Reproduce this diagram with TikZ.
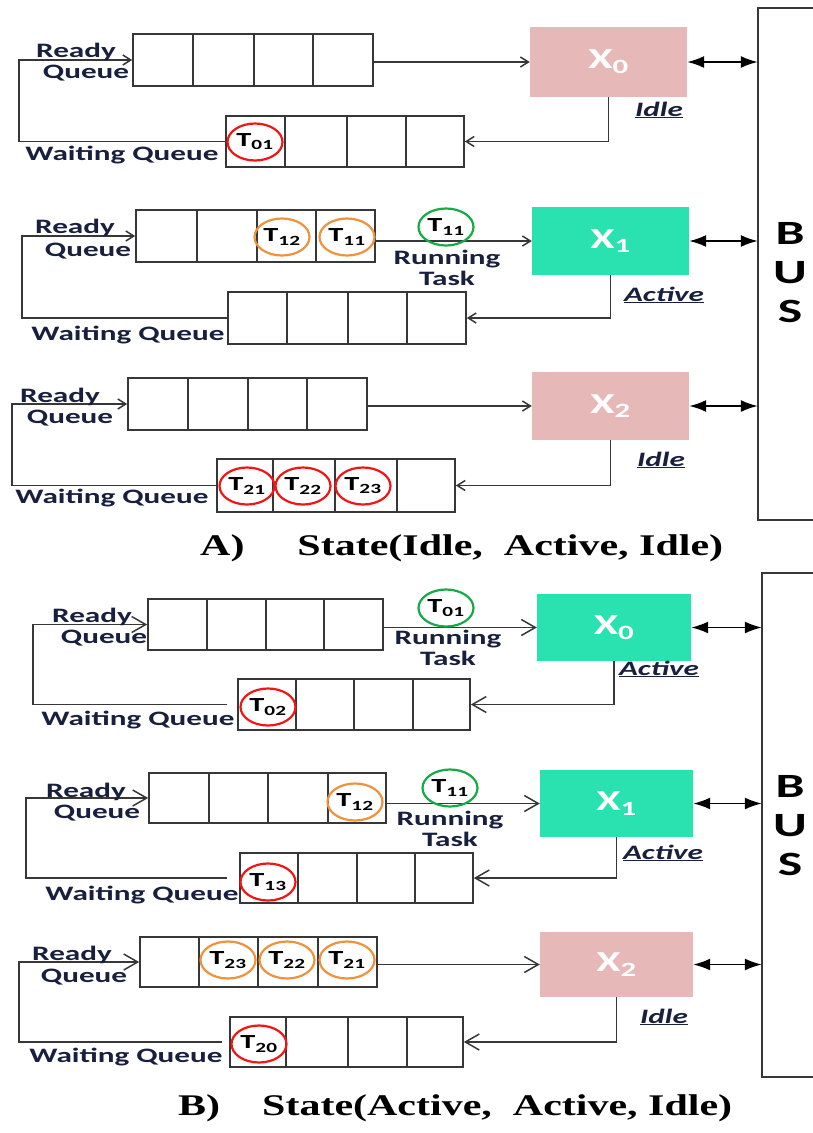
\documentclass[tikz,border=0pt]{standalone}
\usepackage{fontspec}
\usepackage{graphicx}
\setmainfont{Carlito}[FakeStretch=1.52]
\newfontfamily\capfont{Liberation Serif}[FakeStretch=1.4]
\usetikzlibrary{shapes.geometric,arrows.meta}
\definecolor{navy}{RGB}{24,32,62}
\definecolor{pinkbox}{RGB}{230,184,183}
\definecolor{greenbox}{RGB}{42,226,176}
\definecolor{orangec}{RGB}{240,145,60}
\definecolor{greenc}{RGB}{20,170,70}
\definecolor{redc}{RGB}{245,20,20}
\definecolor{linec}{RGB}{55,55,55}
\tikzset{
 qbox/.style={draw=linec, line width=1.6pt, inner sep=0, rectangle},
 qdiv/.style={draw=linec, line width=2.2pt},
 proc/.style={rectangle, inner sep=0, draw=none, text=white, font=\bfseries\fontsize{29}{30}\selectfont},
 lbl/.style={text=navy, font=\bfseries\fontsize{20.5}{20.5}\selectfont, inner sep=0},
 statelbl/.style={text=navy, font=\bfseries\itshape\fontsize{20.5}{20.5}\selectfont, inner sep=0},
 task/.style={ellipse, draw=#1, line width=2.2pt, minimum width=55pt, minimum height=37pt, inner sep=0, font=\bfseries\fontsize{20}{20}\selectfont, text=black},
 conn/.style={draw=linec, line width=1.5pt},
 arrA/.style={conn, -{Straight Barb[length=8pt,width=10pt]}},
 arrB/.style={conn, -{Straight Barb[length=14pt,width=16pt]}},
 busarr/.style={draw=black, line width=1.8pt, {Latex[length=17pt,width=12pt]}-{Latex[length=17pt,width=12pt]}},
 busline/.style={draw=linec, line width=1.8pt},
 buslbl/.style={font=\bfseries\fontsize{34}{39}\selectfont, align=center, inner sep=0},
 caption/.style={font=\capfont\bfseries\fontsize{30}{30}\selectfont, anchor=west, inner sep=0},
}
\newcommand\queue[8]{%
 \node[qbox, minimum width={(#4)-(#2)}, minimum height={(#5)-(#3)}] (#1) at ({((#2)+(#4))/2},{((#3)+(#5))/2}) {};
 \draw[qdiv] (#6,#3) -- (#6,#5) (#7,#3) -- (#7,#5) (#8,#3) -- (#8,#5);
}
\begin{document}
\begin{tikzpicture}[x=1pt,y=-1pt]
\useasboundingbox (0,0) rectangle (813,1133);

% ================= Section A =================
% bus
\node[minimum width=55pt, minimum height=512pt, inner sep=0] (busA) at (785.5,264) {};
\draw[busline] (busA.north east) -- (busA.north west) -- (busA.south west) -- (busA.south east);
\node[buslbl] (busAtxt) at (790,273) {B\\U\\S};

% processors
\node[proc, fill=pinkbox, minimum width=157pt, minimum height=70pt] (xa0) at (608.5,62) {\raisebox{4pt}{X\textsubscript{0}}};
\node[proc, fill=greenbox, minimum width=157pt, minimum height=68pt] (xa1) at (610.5,241) {\raisebox{4pt}{X\textsubscript{1}}};
\node[proc, fill=pinkbox, minimum width=157pt, minimum height=68pt] (xa2) at (610.5,406) {\raisebox{4pt}{X\textsubscript{2}}};

% queues
\queue{rqa0}{133}{34}{373}{86}{193}{254}{313}
\queue{wqa0}{226}{116}{464}{167}{285}{347}{406}
\queue{rqa1}{136}{210}{375}{262}{197}{257}{316}
\queue{wqa1}{228}{292}{466}{344}{287}{348}{407}
\queue{rqa2}{128}{378}{367}{430}{188}{248}{307}
\queue{wqa2}{217}{459}{455}{512}{273}{335}{397}

% loop coordinates
\coordinate (la0) at (19,0);
\coordinate (la1) at (22,0);
\coordinate (la2) at (12,0);

% connectors
\draw[arrA] (rqa0.east |- xa0.west) -- (xa0.west);
\draw[arrA] (wqa0.west) -- (wqa0.west -| la0) |- (rqa0.west);
\draw[arrA] (xa0.south) |- (wqa0.east);
\draw[busarr] (xa0.east) -- (xa0.east -| busA.west);

\draw[arrA] (rqa1.east |- xa1.west) -- (xa1.west);
\draw[arrA] (wqa1.west) -- (wqa1.west -| la1) |- (rqa1.west);
\draw[arrA] (xa1.south) |- (wqa1.east);
\draw[busarr] (xa1.east) -- (xa1.east -| busA.west);

\draw[arrA] (rqa2.east |- xa2.west) -- (xa2.west);
\draw[arrA] (wqa2.west) -- (wqa2.west -| la2) |- (rqa2.west);
\draw[arrA] (xa2.south) |- (wqa2.east);
\draw[busarr] (xa2.east) -- (xa2.east -| busA.west);

% labels
\node[lbl] (ra0a) at (76,52) {Ready};
\node[lbl] (ra0b) at (86,73) {Queue};
\node[lbl] (wa0) at (122,155) {Waiting Queue};
\node[lbl] (ra1a) at (75,228) {Ready};
\node[lbl] (ra1b) at (88,251) {Queue};
\node[lbl] (wa1) at (128,335) {Waiting Queue};
\node[lbl] (ra2a) at (60,397) {Ready};
\node[lbl] (ra2b) at (70,418) {Queue};
\node[lbl] (wa2) at (112,498) {Waiting Queue};
\node[lbl, align=center] (runa1) at (447,268) {Running\\Task};

\node[statelbl] (sa0) at (659,110) {\underline{Idle}};
\node[statelbl] (sa1) at (664,295) {\underline{Active}};
\node[statelbl] (sa2) at (661,460) {\underline{Idle}};

% tasks
\node[task=redc] (ta01) at (255,142) {T\textsubscript{01}};
\node[task=orangec] (ta12) at (282,237) {T\textsubscript{12}};
\node[task=orangec] (ta11) at (347,237) {T\textsubscript{11}};
\node[task=greenc] (tr11) at (446,227) {T\textsubscript{11}};
\node[task=redc] (ta21) at (247,486) {T\textsubscript{21}};
\node[task=redc] (ta22) at (303,486) {T\textsubscript{22}};
\node[task=redc] (ta23) at (363,486) {T\textsubscript{23}};

\node[caption] (capA) at (200,548) {A)\hspace{53pt}State(Idle,\ \ Active, Idle)};

% ================= Section B =================
\node[minimum width=51pt, minimum height=504pt, inner sep=0] (busB) at (787.5,825) {};
\draw[busline] (busB.north east) -- (busB.north west) -- (busB.south west) -- (busB.south east);
\node[buslbl] (busBtxt) at (790,826) {B\\U\\S};

\node[proc, fill=greenbox, minimum width=154pt, minimum height=67pt] (xb0) at (614,627.5) {\raisebox{-3pt}{X\textsubscript{0}}};
\node[proc, fill=greenbox, minimum width=153pt, minimum height=67pt] (xb1) at (616.5,803.5) {\raisebox{-3pt}{X\textsubscript{1}}};
\node[proc, fill=pinkbox, minimum width=153pt, minimum height=65pt] (xb2) at (616.5,964.5) {\raisebox{-3pt}{X\textsubscript{2}}};

\queue{rqb0}{148}{599}{383}{650}{207}{266}{324}
\queue{wqb0}{238}{679}{470}{730}{296}{354}{413}
\queue{rqb1}{149}{773}{386}{823}{209}{268}{328}
\queue{wqb1}{240}{853}{473}{903}{298}{357}{415}
\queue{rqb2}{140}{937}{377}{987}{199}{258}{318}
\queue{wqb2}{230}{1017}{463}{1067}{286}{348}{407}

\coordinate (lb0) at (33,0);
\coordinate (lb1) at (26,0);
\coordinate (lb2) at (19,0);

\draw[arrB] (rqb0.east |- xb0.west) -- (xb0.west);
\draw[arrB, shorten <=10pt] (wqb0.west) -- (wqb0.west -| lb0) |- (rqb0.west);
\draw[arrB] (xb0.south) |- (wqb0.east);
\draw[busarr] (xb0.east) -- (xb0.east -| busB.west);

\draw[arrB] (rqb1.east |- xb1.west) -- (xb1.west);
\draw[arrB, shorten <=12pt] (wqb1.west) -- (wqb1.west -| lb1) |- (rqb1.west);
\draw[arrB] (xb1.south) |- (wqb1.east);
\draw[busarr] (xb1.east) -- (xb1.east -| busB.west);

\draw[arrB] (rqb2.east |- xb2.west) -- (xb2.west);
\draw[arrB, shorten <=7pt] (wqb2.west) -- (wqb2.west -| lb2) |- (rqb2.west);
\draw[arrB] (xb2.south) |- (wqb2.east);
\draw[busarr] (xb2.east) -- (xb2.east -| busB.west);

\node[lbl] (rb0a) at (92,617) {Ready};
\node[lbl] (rb0b) at (104,638) {Queue};
\node[lbl] (wb0) at (138,720) {Waiting Queue};
\node[lbl] (rb1a) at (86,792) {Ready};
\node[lbl] (rb1b) at (97,813) {Queue};
\node[lbl] (wb1) at (142,895) {Waiting Queue};
\node[lbl] (rb2a) at (72,955) {Ready};
\node[lbl] (rb2b) at (84,977) {Queue};
\node[lbl] (wb2) at (126,1057) {Waiting Queue};
\node[lbl, align=center] (runb0) at (448,648) {Running\\Task};
\node[lbl, align=center] (runb1) at (450,829) {Running\\Task};

\node[statelbl] (sb0) at (659,669) {\underline{Active}};
\node[statelbl] (sb1) at (663,853) {\underline{Active}};
\node[statelbl] (sb2) at (664,1017) {\underline{Idle}};

\node[task=greenc] (tr01) at (446,608) {T\textsubscript{01}};
\node[task=redc] (tb02) at (268,707) {T\textsubscript{02}};
\node[task=greenc] (tr11b) at (450,788) {T\textsubscript{11}};
\node[task=orangec] (tb12) at (355,802) {T\textsubscript{12}};
\node[task=redc] (tb13) at (268,882) {T\textsubscript{13}};
\node[task=orangec] (tb23) at (228,960) {T\textsubscript{23}};
\node[task=orangec] (tb22) at (287,960) {T\textsubscript{22}};
\node[task=orangec] (tb21) at (347,960) {T\textsubscript{21}};
\node[task=redc] (tb20) at (259,1044) {T\textsubscript{20}};

\node[caption] (capB) at (178,1108) {B)\hspace{42pt}State(Active,\ \ Active, Idle)};
\end{tikzpicture}
\end{document}
